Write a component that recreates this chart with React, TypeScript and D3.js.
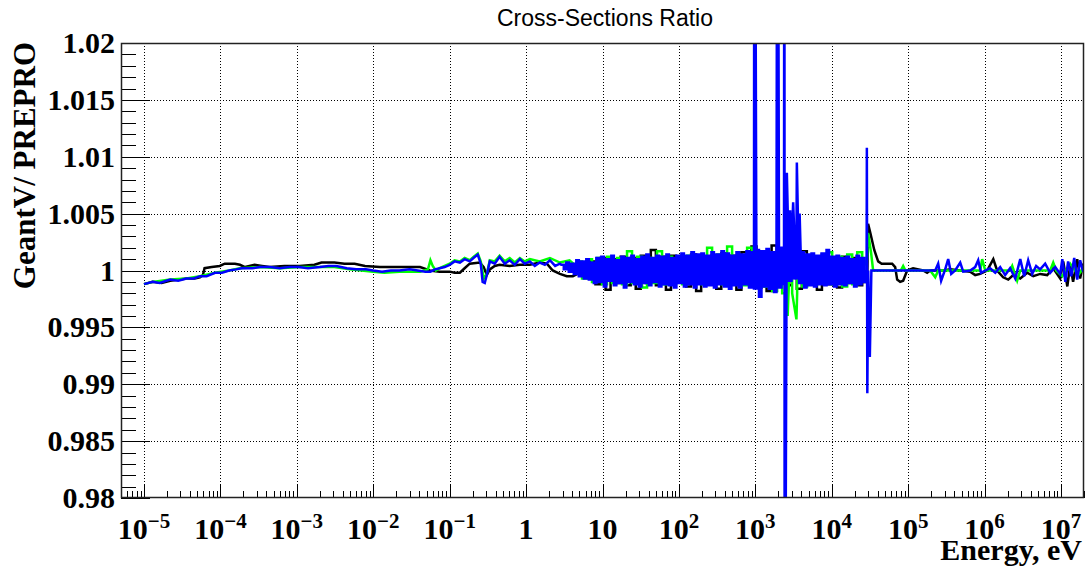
import React from "react";
import * as d3 from "d3";

const W = 1085;
const H = 567;
const PLOT = { left: 121, right: 1084, top: 43, bottom: 498 };

// Axis definitions
const xDomain: [number, number] = [5e-6, 2e7];
const yDomain: [number, number] = [0.98, 1.02];
const xDecades = [-5, -4, -3, -2, -1, 0, 1, 2, 3, 4, 5, 6, 7];
const yMajorTicks = [0.98, 0.985, 0.99, 0.995, 1, 1.005, 1.01, 1.015, 1.02];
const yTickLabels = ["0.98", "0.985", "0.99", "0.995", "1", "1.005", "1.01", "1.015", "1.02"];

type Pt = [number, number];

// ---------------- Black series ----------------
const blackLow: Pt[] = [
  [1e-5, 0.9988], [1.3e-5, 0.999], [1.7e-5, 0.9989], [2.2e-5, 0.9991], [2.9e-5, 0.9992],
  [3.6e-5, 0.9993], [4.6e-5, 0.9993], [5.4e-5, 0.9994], [5.9e-5, 0.9996], [6.2e-5, 1.0002],
  [7.7e-5, 1.0003], [9.8e-5, 1.0004], [1.14e-4, 1.0006], [1.55e-4, 1.0006], [1.8e-4, 1.0005],
  [2.1e-4, 1.0003], [2.8e-4, 1.0005], [3.5e-4, 1.0004], [4.4e-4, 1.0003], [6.9e-4, 1.0004],
  [1.09e-3, 1.0004], [1.7e-3, 1.0005], [2.1e-3, 1.0007], [3.1e-3, 1.0007], [4.2e-3, 1.0006],
  [5.7e-3, 1.0006], [7.8e-3, 1.0004], [1.22e-2, 1.0003], [2.23e-2, 1.0003], [4.1e-2, 1.0003],
  [5.5e-2, 1.0], [7.4e-2, 0.9999], [0.1, 0.9999], [0.116, 0.9998], [0.136, 0.9998],
  [0.157, 1.0002], [0.183, 1.0006], [0.248, 1.0007], [0.279, 1.0003], [0.306, 0.9996],
  [0.335, 1.0001], [0.389, 1.0004], [0.45, 1.0005], [0.61, 1.0004], [0.83, 1.0005],
  [1.12, 1.0005], [1.51, 1.0007], [1.87, 1.0006], [2.23, 1.0], [2.77, 0.9997],
  [3.41, 0.9995], [4.09, 0.9995], [5.0, 0.9998], [6.2, 0.9997],
];
const blackBandRange: [number, number] = [7.5, 2.7e4];
const blackBand = [
  1.0008, 0.9988, 1.0011, 0.9983, 1.001, 0.9989, 1.0012, 0.9987, 1.0011, 0.9984,
  1.0013, 0.9989, 1.0018, 0.9987, 1.0012, 0.9983, 1.0013, 0.999, 1.0011, 0.9986,
  1.0014, 0.9982, 1.0012, 0.9988, 1.0013, 0.9984, 1.0015, 0.9989, 1.0013, 0.9983,
  1.0016, 0.9988, 1.0021, 0.9985, 1.0015, 0.9982, 1.0022, 0.9988, 1.0014, 0.9987,
  1.0013, 0.9984, 1.0017, 0.9989, 1.0012, 0.9983, 1.0014, 0.9988, 1.0011, 0.9985,
  1.0012, 0.9989, 1.0011, 0.9987, 0.999,
];
const blackHigh: Pt[] = [
  [2.8e4, 0.999], [2.99e4, 1.0041], [3.2e4, 1.0033], [3.6e4, 1.0018], [4.05e4, 1.0008],
  [4.5e4, 1.0006], [6.18e4, 1.0006], [6.76e4, 1.0003], [7.18e4, 0.9992], [7.86e4, 0.999],
  [8.6e4, 0.9991], [9.7e4, 1.0], [1.16e5, 1.0002], [1.57e5, 1.0], [1.77e5, 0.9998],
  [1.94e5, 1.0], [2.87e5, 1.0], [3.55e5, 1.0001], [4.8e5, 1.0], [6.48e5, 0.9999],
  [7.54e5, 0.9996], [8.76e5, 0.9997], [1.08e6, 1.0], [1.3e6, 1.001], [1.46e6, 1.0],
  [1.75e6, 0.9994], [2.04e6, 0.9992], [2.37e6, 0.9996], [2.93e6, 0.9993], [3.61e6, 0.9998],
  [4.33e6, 0.9995], [5.34e6, 0.9997], [6.6e6, 0.9996], [7.91e6, 1.0002], [9.77e6, 0.9993],
  [1.07e7, 1.0008], [1.21e7, 0.9986], [1.32e7, 1.0005], [1.44e7, 0.999], [1.63e7, 1.001],
  [1.78e7, 0.9993], [1.95e7, 1.0006], [2.0e7, 1.0],
];

// ---------------- Green series ----------------
const greenLow: Pt[] = [
  [1e-5, 0.9988], [1.3e-5, 0.999], [2.2e-5, 0.9992], [3.6e-5, 0.9993], [5.4e-5, 0.9995],
  [8.5e-5, 0.9998], [1.3e-4, 1.0], [1.8e-4, 1.0002], [3.3e-4, 1.0003], [6e-4, 1.0002],
  [1.1e-3, 1.0003], [2e-3, 1.0003], [3.1e-3, 1.0003], [4.9e-3, 1.0001], [1e-2, 0.9999],
  [1.4e-2, 0.9998], [2.2e-2, 0.9999], [4.1e-2, 0.9999], [5.2e-2, 1.0001], [5.6e-2, 1.0009],
  [6e-2, 1.0004], [6.6e-2, 1.0], [7.4e-2, 1.0002], [0.1, 1.0006], [0.116, 1.0009],
  [0.136, 1.0008], [0.157, 1.0011], [0.183, 1.0009], [0.205, 1.0012], [0.233, 1.0015],
  [0.255, 1.0008], [0.279, 0.9993], [0.306, 0.9997], [0.335, 1.0009], [0.389, 1.0008],
  [0.45, 1.0013], [0.526, 1.0008], [0.61, 1.0011], [0.711, 1.0007], [0.83, 1.0011],
  [0.96, 1.0008], [1.12, 1.001], [1.51, 1.0008], [2.05, 1.0011], [2.77, 1.0007],
  [3.7, 1.0009], [4.5, 1.0004],
];
const greenBandRange: [number, number] = [5, 2.7e4];
const greenBand = [
  1.0008, 0.9993, 1.001, 0.999, 1.0011, 0.9988, 1.0012, 0.9989, 1.0011, 0.9988,
  1.0017, 0.9989, 1.0012, 0.9985, 1.0011, 0.9989, 1.0017, 0.9988, 1.0012, 0.9989,
  1.0011, 0.9988, 1.0013, 0.9989, 1.0012, 0.9988, 1.002, 0.9989, 1.0014, 0.9988,
  1.0021, 0.9989, 1.0013, 0.9987, 1.002, 0.9988, 1.0014, 0.9986, 1.0013, 0.9982,
  1.0016, 0.998, 1.0012, 0.998, 1.0013, 0.9986, 1.0012, 0.9988, 1.0011, 0.9989,
  1.0016, 0.9988, 1.0012, 0.9986, 1.0014, 0.9988, 1.0016, 1.0012,
];
const greenDips: Pt[] = [[2650, 0.996], [2750, 0.999], [3450, 0.9957], [3550, 0.999]];
const greenHigh: Pt[] = [
  [2.85e4, 1.0005], [2.99e4, 1.0033], [3.28e4, 1.0015], [3.48e4, 1.0], [8.0e4, 1.0],
  [8.6e4, 1.0004], [9.2e4, 1.0], [1.94e5, 1.0], [2.26e5, 0.9994], [2.47e5, 1.0],
  [8.76e5, 1.0], [9.3e5, 1.001], [1.02e6, 1.0], [2.16e6, 1.0], [2.3e6, 1.0004],
  [2.67e6, 0.9991], [2.93e6, 1.0], [7.22e6, 1.0], [7.91e6, 1.0007], [8.65e6, 1.0],
  [1.04e7, 0.9995], [1.32e7, 1.0006], [1.68e7, 0.9996], [1.95e7, 1.0002], [2.0e7, 1.0],
];

// ---------------- Blue series ----------------
const blueLow: Pt[] = [
  [1e-5, 0.9988], [1.3e-5, 0.999], [1.6e-5, 0.9989], [2.2e-5, 0.9992], [2.8e-5, 0.9991],
  [3.6e-5, 0.9993], [4.5e-5, 0.9993], [5.4e-5, 0.9995], [6.6e-5, 0.9995], [8.5e-5, 0.9998],
  [1.05e-4, 0.9998], [1.3e-4, 1.0], [1.6e-4, 1.0001], [1.9e-4, 1.0002], [2.6e-4, 1.0002],
  [3.3e-4, 1.0003], [4.4e-4, 1.0003], [6.0e-4, 1.0002], [8.0e-4, 1.0003], [1.05e-3, 1.0003],
  [1.4e-3, 1.0002], [2.0e-3, 1.0003], [2.6e-3, 1.0004], [3.3e-3, 1.0004], [4.5e-3, 1.0002],
  [6.0e-3, 1.0001], [8.0e-3, 1.0001], [1.0e-2, 1.0], [1.3e-2, 0.9999], [1.7e-2, 1.0],
  [2.2e-2, 1.0], [3.0e-2, 1.0001], [3.8e-2, 1.0], [4.8e-2, 0.9999], [5.6e-2, 0.9999],
  [6.4e-2, 1.0001], [7.4e-2, 1.0002], [8.6e-2, 1.0003], [0.1, 1.0005], [0.116, 1.0008],
  [0.136, 1.0007], [0.157, 1.001], [0.183, 1.0008], [0.205, 1.0011], [0.233, 1.0014],
  [0.255, 1.0006], [0.27, 0.999], [0.288, 0.9989], [0.306, 0.9996], [0.335, 1.0008],
  [0.389, 1.0006], [0.45, 1.0012], [0.526, 1.0006], [0.61, 1.0009], [0.711, 1.0005],
  [0.83, 1.001], [0.96, 1.0006], [1.12, 1.0008], [1.3, 1.0004], [1.51, 1.0007],
  [1.76, 1.0005], [2.05, 1.0009], [2.4, 1.0004], [2.77, 1.0006],
];
const blueBandRange: [number, number] = [3.0, 2.75e4];
const blueBand = [
  1.0005, 1.0001, 1.0007, 0.9999, 1.0006, 0.9997, 1.0009, 0.9995, 1.0008, 0.9993,
  1.001, 0.9992, 1.0007, 0.9989, 1.0011, 0.999, 1.0012, 0.9986, 1.001, 0.9991,
  1.0013, 0.9987, 1.0009, 0.9989, 1.0012, 0.9985, 1.0011, 0.999, 1.0013, 0.9988,
  1.001, 0.9986, 1.0012, 0.9989, 1.0014, 0.9987, 1.0011, 0.999, 1.0013, 0.9986,
  1.0012, 0.9988, 1.0014, 0.9987, 1.0011, 0.9985, 1.0013, 0.9989, 1.0015, 0.9986,
  1.0013, 0.9988, 1.0016, 0.9985, 1.0014, 0.9988, 1.0015, 0.9986, 1.0013, 0.9987,
  1.0016, 0.9985, 1.0014, 0.9988, 1.0017, 0.9986, 1.0015, 0.9984, 1.0013, 0.9987,
  1.0016, 0.9985, 1.0014, 0.9988, 1.0017, 0.9985, 1.0016, 0.9983, 1.0018, 0.9977,
  1.0017, 0.9986, 1.0019, 0.9984, 1.0016, 0.9981, 1.0018, 0.9985, 1.002, 0.9987,
  1.003, 0.999, 1.004, 0.9992, 1.0035, 0.9988, 1.0016, 0.9985, 1.0014, 0.9987,
  1.0015, 0.9986, 1.0013, 0.9988, 1.0015, 0.9987, 1.0018, 0.9988, 1.0012, 0.9986,
  1.0013, 0.9988, 1.0011, 0.9987, 1.0012, 0.9989, 1.001, 0.9986, 1.0013, 0.9988,
  1.0011, 0.999,
];
const blueSpikes: Pt[] = [
  [972, 1.06], [1950, 1.06], [2400, 1.06], [2420, 0.95], [2585, 1.0086], [2700, 1.003],
  [2856, 1.0053], [2990, 1.0025], [3126, 1.006], [3300, 1.002], [3493, 1.0095],
  [3650, 1.003], [3800, 1.005],
];
const blueHigh: Pt[] = [
  [2.88e4, 1.0108], [2.92e4, 0.9892], [3.0e4, 1.0], [3.15e4, 0.9924], [3.3e4, 1.0],
  [3.48e4, 1.0], [2.26e5, 1.0], [2.47e5, 1.0006], [2.7e5, 0.9991], [3.05e5, 1.0001],
  [3.34e5, 1.001], [3.66e5, 0.9997], [4.12e5, 1.0], [4.8e5, 1.0007], [5.25e5, 0.9999],
  [6.48e5, 1.0], [7.54e5, 1.0003], [8.25e5, 1.0009], [9.0e5, 0.9998], [1.02e6, 1.0],
  [1.18e6, 1.0002], [1.38e6, 0.9998], [1.6e6, 1.0003], [1.86e6, 0.9996], [2.16e6, 1.0002],
  [2.52e6, 0.9993], [2.93e6, 1.001], [3.3e6, 0.9995], [3.72e6, 1.0009], [4.2e6, 0.9997],
  [4.73e6, 1.0004], [5.34e6, 1.0001], [6.21e6, 1.0006], [7.22e6, 0.9998], [8.4e6, 1.0003],
  [9.77e6, 0.9997], [1.04e7, 1.001], [1.14e7, 0.999], [1.24e7, 1.0008], [1.36e7, 0.9995],
  [1.49e7, 1.0011], [1.63e7, 0.9992], [1.78e7, 1.0009], [1.95e7, 0.9999], [2.0e7, 1.0004],
];

// Band values are histogram bins of equal width in log(E) between the two range limits;
// each bin contributes its left and right edge so the outline is drawn as steps.
function bandPoints(range: [number, number], values: number[]): Pt[] {
  const [e0, e1] = range;
  const n = values.length;
  const ratio = e1 / e0;
  const edges = d3.range(n + 1).map((k) => e0 * Math.pow(ratio, (k - 0.5) / (n - 1)));
  const out: Pt[] = [];
  values.forEach((v, i) => {
    out.push([edges[i], v]);
    out.push([edges[i + 1], v]);
  });
  return out;
}

function series(...parts: Pt[][]): Pt[] {
  // stable sort keeps shared bin edges in drawing order
  return parts.flat().sort((a, b) => a[0] - b[0]);
}

const blackPts = series(blackLow, bandPoints(blackBandRange, blackBand), blackHigh);
const greenPts = series(greenLow, bandPoints(greenBandRange, greenBand), greenDips, greenHigh);
const bluePts = series(blueLow, bandPoints(blueBandRange, blueBand), blueSpikes, blueHigh);

const SERIF = "'Liberation Serif', 'Times New Roman', serif";
const SANS = "'Liberation Sans', Arial, Helvetica, sans-serif";

export default function App() {
  const x = d3.scaleLog().domain(xDomain).range([PLOT.left, PLOT.right]);
  const y = d3.scaleLinear().domain(yDomain).range([PLOT.bottom, PLOT.top]);
  const line = d3
    .line<Pt>()
    .x((d) => x(d[0]))
    .y((d) => y(d[1]));

  // minor ticks on the log axis: 2..9 times each decade, inside the domain
  const xMinor: number[] = [];
  for (let d = -6; d <= 7; d++) {
    for (let k = 2; k <= 9; k++) {
      const v = k * Math.pow(10, d);
      if (v >= xDomain[0] && v <= xDomain[1]) xMinor.push(v);
    }
  }
  const yMinor = d3.range(0, 41).map((i) => 0.98 + i * 0.001);

  const gridY = yMajorTicks.filter((v) => v > 0.98 + 1e-9 && v < 1.02 - 1e-9);

  const xLabel = (d: number) => {
    if (d === 0) return { base: "1", exp: "" };
    if (d === 1) return { base: "10", exp: "" };
    return { base: "10", exp: d < 0 ? "\u2212" + Math.abs(d) : String(d) };
  };

  return (
    <svg
      width={W}
      height={H}
      style={{ position: "absolute", left: 0, top: 0, display: "block" }}
    >
      <defs>
        <clipPath id="plot-clip">
          <rect
            x={PLOT.left}
            y={PLOT.top}
            width={PLOT.right - PLOT.left}
            height={PLOT.bottom - PLOT.top}
          />
        </clipPath>
      </defs>
      <rect x={0} y={0} width={W} height={H} fill="#fff" />

      {/* dotted grid */}
      <g stroke="#000" strokeWidth={1} strokeDasharray="1 2" fill="none">
        {xDecades.map((d) => {
          const xx = Math.round(x(Math.pow(10, d))) + 0.5;
          return <line key={"gx" + d} x1={xx} x2={xx} y1={PLOT.top} y2={PLOT.bottom} />;
        })}
        {gridY.map((v) => {
          const yy = Math.round(y(v)) + 0.5;
          return <line key={"gy" + v} x1={PLOT.left} x2={PLOT.right} y1={yy} y2={yy} />;
        })}
      </g>

      {/* axis ticks (drawn inside the frame) */}
      <g stroke="#000" strokeWidth={1}>
        {yMinor.map((v, i) => {
          const yy = Math.round(y(v)) + 0.5;
          const len = i % 5 === 0 ? 29 : 15;
          return <line key={"yt" + i} x1={PLOT.left} x2={PLOT.left + len} y1={yy} y2={yy} />;
        })}
        {xMinor.map((v) => {
          const xx = Math.round(x(v)) + 0.5;
          return <line key={"xm" + v} x1={xx} x2={xx} y1={PLOT.bottom} y2={PLOT.bottom - 7} />;
        })}
        {xDecades.map((d) => {
          const xx = Math.round(x(Math.pow(10, d))) + 0.5;
          return <line key={"xt" + d} x1={xx} x2={xx} y1={PLOT.bottom} y2={PLOT.bottom - 14} />;
        })}
      </g>

      {/* data */}
      <g clipPath="url(#plot-clip)" fill="none" strokeWidth={2.5} strokeLinejoin="miter">
        <path d={line(blackPts) || ""} stroke="#000000" />
        <path d={line(greenPts) || ""} stroke="#00ff00" />
        <path d={line(bluePts) || ""} stroke="#0000ff" />
      </g>

      {/* frame */}
      <rect
        x={PLOT.left + 0.5}
        y={PLOT.top + 0.5}
        width={PLOT.right - PLOT.left - 1}
        height={PLOT.bottom - PLOT.top - 1}
        fill="none"
        stroke="#222"
        strokeWidth={1.5}
      />

      {/* y tick labels */}
      <g fontFamily={SERIF} fontWeight="bold" fontSize={30} textAnchor="end" fill="#000">
        {yMajorTicks.map((v, i) => (
          <text key={"yl" + v} x={115} y={y(v) + 10}>
            {yTickLabels[i]}
          </text>
        ))}
      </g>

      {/* x tick labels */}
      <g fontFamily={SERIF} fontWeight="bold" fontSize={30} textAnchor="middle" fill="#000">
        {xDecades.map((d) => {
          const lab = xLabel(d);
          return (
            <text key={"xl" + d} x={x(Math.pow(10, d))} y={539}>
              <tspan>{lab.base}</tspan>
              {lab.exp && (
                <tspan fontSize={21} dy={-11}>
                  {lab.exp}
                </tspan>
              )}
            </text>
          );
        })}
      </g>

      {/* axis titles */}
      <text
        x={1082}
        y={560}
        textAnchor="end"
        fontFamily={SERIF}
        fontWeight="bold"
        fontSize={30}
        fill="#000"
      >
        Energy, eV
      </text>
      <text
        transform={`translate(35, ${PLOT.top - 1}) rotate(-90)`}
        textAnchor="end"
        fontFamily={SERIF}
        fontWeight="bold"
        fontSize={31}
        fill="#000"
      >
        GeantV/ PREPRO
      </text>

      {/* title */}
      <text
        x={605}
        y={26}
        textAnchor="middle"
        fontFamily={SANS}
        fontSize={23}
        fill="#000"
      >
        Cross-Sections Ratio
      </text>
    </svg>
  );
}
